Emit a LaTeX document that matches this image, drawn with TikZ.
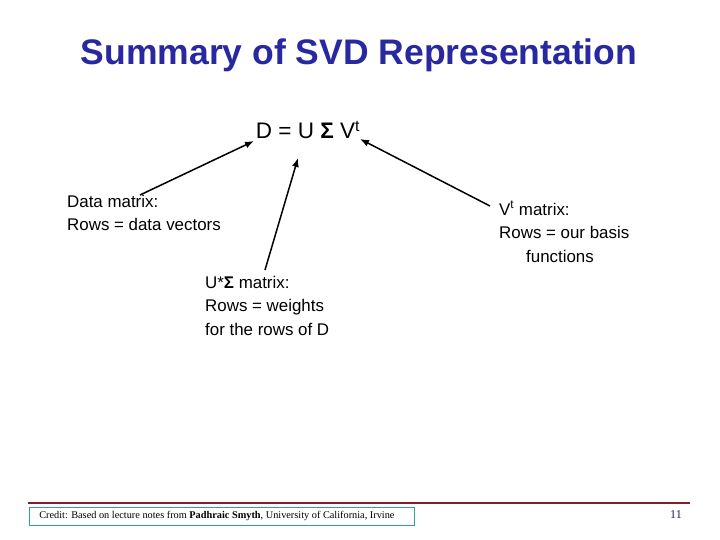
\documentclass[tikz,border=0pt]{standalone}
\usepackage{fontspec}
\usetikzlibrary{arrows.meta}
\setmainfont{Liberation Sans}
\newfontfamily\serifF{Liberation Serif}
\definecolor{titleblue}{RGB}{40,40,160}
\definecolor{navy}{RGB}{30,30,110}
\definecolor{darkred}{RGB}{130,30,40}
\definecolor{teal2}{RGB}{50,160,150}
\begin{document}
\begin{tikzpicture}[x=1pt,y=-1pt,
  lab/.style={anchor=north west,align=left,font=\fontsize{16.9}{23.5}\selectfont,inner sep=0pt},
  arr/.style={-{Latex[length=9pt,width=7pt]},line width=1.5pt}]
\useasboundingbox (0,0) rectangle (720,540);
\node[text=titleblue,font=\fontsize{35.5}{40}\bfseries\selectfont] (title) at (359,55) {Summary of SVD Representation};
\node[font=\fontsize{22.5}{26}\selectfont,inner sep=0pt] (eq) at (308,130) {D = U \textbf{Σ} V\textsuperscript{t}};
\coordinate (d) at (254,141);
\coordinate (u) at (298,158);
\coordinate (v) at (360,139);
\node[lab] (dm) at (67,195) {Data matrix:\\Rows = data vectors};
\node[lab] (us) at (205,276) {U*\textbf{Σ} matrix:\\Rows = weights\\for the rows of D};
\node[lab] (vm) at (499,201) {V\textsuperscript{t} matrix:\\Rows = our basis\\\hspace*{27pt}functions};
\coordinate (dt) at (140,195);
\coordinate (ut) at (265,270);
\coordinate (vt) at (490,206);
\draw[arr] (dt) -- (d);
\draw[arr] (ut) -- (u);
\draw[arr] (vt) -- (v);
\draw[darkred,line width=1.5pt] (28,503) -- (690,503);
\node[draw=teal2,line width=0.8pt,anchor=west,inner sep=0pt,minimum height=18pt,minimum width=385pt,font=\serifF\fontsize{10.3}{11}\selectfont] (credit) at (29,516) {Credit: Based on lecture notes from \textbf{Padhraic Smyth}, University of California, Irvine\hspace*{10pt}};
\node[text=navy,font=\serifF\fontsize{12}{14}\selectfont] (pg) at (676,515) {11};
\end{tikzpicture}
\end{document}
